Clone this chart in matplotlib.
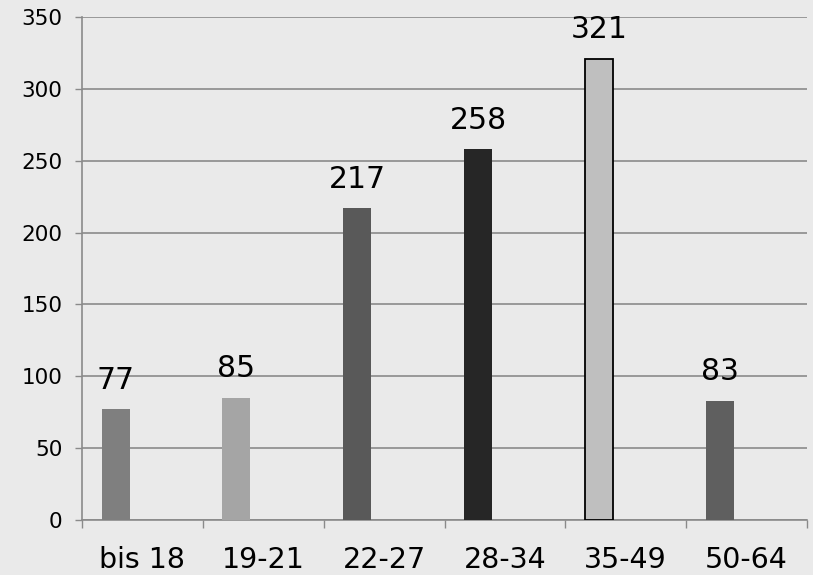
import matplotlib
matplotlib.use("Agg")
import matplotlib.pyplot as plt
import numpy as np

categories = ["bis 18", "19-21", "22-27", "28-34", "35-49", "50-64"]
values = [77, 85, 217, 258, 321, 83]
bar_colors = ["#7f7f7f", "#a5a5a5", "#595959", "#262626", "#bfbfbf", "#5f5f5f"]
edge_colors = ["none", "none", "none", "none", "#000000", "none"]
y_ticks = [0, 50, 100, 150, 200, 250, 300, 350]

bg = "#eaeaea"
fig = plt.figure(figsize=(8.13, 5.75), dpi=100, facecolor=bg)
ax = fig.add_axes([82/813, 1-520/575, (807-82)/813, (520-17)/575])
ax.set_facecolor(bg)

x = np.arange(len(categories))
bars = ax.bar(x - 0.222, values, width=0.232, color=bar_colors,
              edgecolor=edge_colors, linewidth=1.3, zorder=3)
ax.bar_label(bars, labels=[str(v) for v in values], padding=10.5,
             fontsize=21.5, color="black", zorder=4)

ax.set_xlim(-0.5, len(categories) - 0.5)
ax.set_ylim(0, 350)
ax.set_yticks(y_ticks)
ax.set_yticklabels([str(t) for t in y_ticks], fontsize=15.5)
ax.yaxis.grid(True, color="#8a8a8a", linewidth=1.2, zorder=0)
ax.tick_params(axis="y", length=5, width=1, color="#8a8a8a", pad=9)

ax.set_xticks(np.arange(len(categories) + 1) - 0.5)
ax.set_xticklabels([])
ax.tick_params(axis="x", which="major", length=6, width=1, color="#8a8a8a")
ax.set_xticks(x, minor=True)
ax.set_xticklabels(categories, minor=True, fontsize=20.5)
ax.tick_params(axis="x", which="minor", length=0, pad=18.5)

for s in ["top", "right"]:
    ax.spines[s].set_visible(False)
for s in ["left", "bottom"]:
    ax.spines[s].set_color("#8a8a8a")
    ax.spines[s].set_linewidth(1.2)

fig.savefig("out.png", dpi=100, facecolor=bg)
